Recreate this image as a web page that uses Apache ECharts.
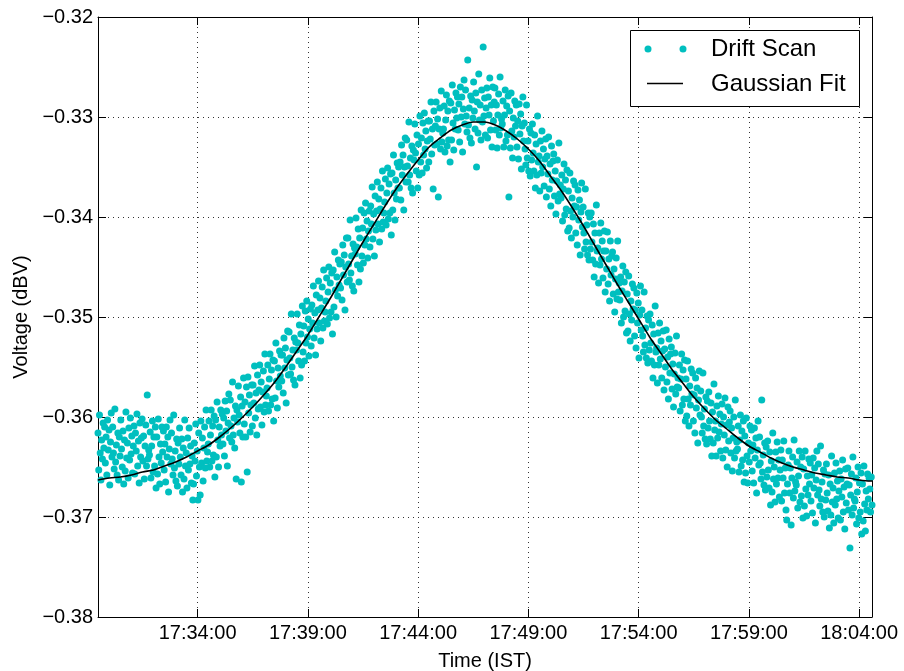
<!DOCTYPE html>
<html><head><meta charset="utf-8">
<script src="https://cdn.jsdelivr.net/npm/echarts@6/dist/echarts.min.js"></script>
<style>html,body{margin:0;padding:0;background:#fff}#c{width:904px;height:671px}</style>
</head><body><div id="c"></div>
<script>
// x is seconds after 17:29:00 (IST)
const clockOrigin = 17 * 3600 + 29 * 60;
const scanStart = 29;   // first sample 17:29:29
const scanStep = 2;     // seconds between samples
const xMin = 29, xMax = 2135;
const xTickValues = [300, 600, 900, 1200, 1500, 1800, 2100];
const yMin = -0.38, yMax = -0.32, yStep = 0.01;

// Drift scan voltage (dBV), one value per sample
const scanValues = [
-.3616,-.3653,-.3598,-.3636,-.3663,-.3623,-.3642,-.3606,-.3631,-.3610,
-.3646,-.3620,-.3658,-.3603,-.3633,-.3613,-.3668,-.3625,-.3596,-.3640,
-.3610,-.3636,-.3652,-.3592,-.3645,-.3628,-.3658,-.3616,-.3663,-.3620,
-.3639,-.3603,-.3632,-.3650,-.3614,-.3667,-.3623,-.3654,-.3595,-.3641,
-.3626,-.3661,-.3611,-.3643,-.3601,-.3637,-.3619,-.3656,-.3629,-.3609,
-.3657,-.3616,-.3634,-.3597,-.3649,-.3624,-.3666,-.3606,-.3640,-.3621,
-.3602,-.3644,-.3619,-.3662,-.3629,-.3608,-.3649,-.3578,-.3642,-.3633,
-.3638,-.3615,-.3661,-.3629,-.3604,-.3655,-.3620,-.3649,-.3610,-.3671,
-.3620,-.3657,-.3602,-.3640,-.3667,-.3627,-.3646,-.3610,-.3635,-.3614,
-.3653,-.3627,-.3665,-.3610,-.3640,-.3620,-.3675,-.3632,-.3603,-.3647,
-.3616,-.3642,-.3658,-.3598,-.3651,-.3634,-.3664,-.3622,-.3669,-.3626,
-.3647,-.3611,-.3640,-.3658,-.3622,-.3675,-.3631,-.3662,-.3603,-.3649,
-.3636,-.3671,-.3621,-.3653,-.3611,-.3647,-.3629,-.3666,-.3639,-.3683,
-.3667,-.3626,-.3644,-.3607,-.3659,-.3634,-.3683,-.3616,-.3650,-.3678,
-.3604,-.3646,-.3621,-.3664,-.3631,-.3610,-.3651,-.3593,-.3644,-.3635,
-.3627,-.3604,-.3650,-.3618,-.3593,-.3644,-.3609,-.3638,-.3599,-.3660,
-.3603,-.3640,-.3585,-.3623,-.3650,-.3610,-.3629,-.3593,-.3618,-.3597,
-.3627,-.3601,-.3639,-.3584,-.3614,-.3594,-.3649,-.3606,-.3577,-.3621,
-.3583,-.3609,-.3625,-.3565,-.3618,-.3601,-.3631,-.3589,-.3662,-.3593,
-.3605,-.3569,-.3598,-.3616,-.3580,-.3665,-.3589,-.3620,-.3561,-.3607,
-.3585,-.3620,-.3570,-.3655,-.3560,-.3596,-.3578,-.3615,-.3588,-.3568,
-.3609,-.3568,-.3586,-.3549,-.3601,-.3576,-.3618,-.3558,-.3592,-.3573,
-.3548,-.3590,-.3565,-.3608,-.3575,-.3554,-.3595,-.3537,-.3588,-.3579,
-.3571,-.3548,-.3594,-.3562,-.3537,-.3588,-.3553,-.3582,-.3543,-.3604,
-.3544,-.3581,-.3526,-.3564,-.3591,-.3551,-.3570,-.3534,-.3559,-.3538,
-.3564,-.3538,-.3576,-.3521,-.3551,-.3531,-.3586,-.3543,-.3514,-.3558,
-.3515,-.3541,-.3557,-.3497,-.3550,-.3533,-.3563,-.3521,-.3568,-.3525,
-.3533,-.3497,-.3526,-.3544,-.3508,-.3561,-.3517,-.3548,-.3489,-.3535,
-.3509,-.3544,-.3494,-.3526,-.3484,-.3520,-.3502,-.3539,-.3512,-.3492,
-.3529,-.3488,-.3506,-.3469,-.3521,-.3496,-.3538,-.3478,-.3512,-.3493,
-.3464,-.3506,-.3481,-.3524,-.3491,-.3470,-.3511,-.3453,-.3504,-.3495,
-.3484,-.3461,-.3507,-.3475,-.3450,-.3501,-.3466,-.3495,-.3456,-.3517,
-.3453,-.3490,-.3435,-.3473,-.3500,-.3460,-.3479,-.3443,-.3468,-.3447,
-.3471,-.3445,-.3483,-.3428,-.3458,-.3438,-.3493,-.3450,-.3421,-.3465,
-.3421,-.3447,-.3463,-.3403,-.3456,-.3439,-.3469,-.3427,-.3474,-.3431,
-.3437,-.3401,-.3430,-.3448,-.3412,-.3465,-.3421,-.3452,-.3393,-.3439,
-.3411,-.3446,-.3396,-.3428,-.3386,-.3422,-.3404,-.3441,-.3414,-.3394,
-.3430,-.3389,-.3407,-.3370,-.3422,-.3397,-.3439,-.3379,-.3413,-.3394,
-.3365,-.3407,-.3382,-.3425,-.3392,-.3371,-.3412,-.3354,-.3405,-.3396,
-.3385,-.3362,-.3408,-.3376,-.3351,-.3402,-.3367,-.3396,-.3357,-.3418,
-.3356,-.3393,-.3338,-.3376,-.3403,-.3363,-.3382,-.3346,-.3371,-.3350,
-.3371,-.3345,-.3383,-.3328,-.3358,-.3338,-.3393,-.3350,-.3321,-.3365,
-.3323,-.3349,-.3365,-.3305,-.3358,-.3341,-.3371,-.3329,-.3376,-.3333,
-.3343,-.3307,-.3336,-.3354,-.3318,-.3371,-.3327,-.3358,-.3299,-.3345,
-.3321,-.3356,-.3306,-.3338,-.3296,-.3332,-.3314,-.3351,-.3324,-.3304,
-.3345,-.3304,-.3322,-.3285,-.3337,-.3312,-.3372,-.3294,-.3328,-.3309,
-.3285,-.3327,-.3302,-.3380,-.3312,-.3291,-.3332,-.3274,-.3325,-.3316,
-.3312,-.3289,-.3335,-.3303,-.3278,-.3329,-.3294,-.3323,-.3284,-.3345,
-.3286,-.3323,-.3268,-.3306,-.3333,-.3293,-.3312,-.3276,-.3301,-.3280,
-.3313,-.3287,-.3325,-.3270,-.3300,-.3280,-.3335,-.3292,-.3263,-.3307,
-.3273,-.3299,-.3315,-.3243,-.3308,-.3291,-.3321,-.3279,-.3326,-.3283,
-.3301,-.3265,-.3294,-.3312,-.3276,-.3350,-.3285,-.3316,-.3257,-.3303,
-.3288,-.3323,-.3273,-.3305,-.3230,-.3299,-.3281,-.3318,-.3291,-.3271,
-.3321,-.3280,-.3298,-.3261,-.3313,-.3288,-.3330,-.3270,-.3304,-.3285,
-.3271,-.3313,-.3288,-.3331,-.3298,-.3277,-.3318,-.3260,-.3311,-.3302,
-.3307,-.3284,-.3330,-.3298,-.3273,-.3324,-.3289,-.3318,-.3279,-.3380,
-.3294,-.3331,-.3276,-.3314,-.3341,-.3301,-.3320,-.3284,-.3309,-.3288,
-.3330,-.3304,-.3342,-.3287,-.3317,-.3297,-.3352,-.3309,-.3280,-.3324,
-.3306,-.3332,-.3348,-.3288,-.3341,-.3324,-.3354,-.3312,-.3359,-.3316,
-.3343,-.3307,-.3336,-.3354,-.3318,-.3371,-.3327,-.3358,-.3299,-.3345,
-.3339,-.3374,-.3324,-.3356,-.3314,-.3350,-.3332,-.3369,-.3342,-.3322,
-.3380,-.3339,-.3357,-.3320,-.3372,-.3347,-.3389,-.3329,-.3363,-.3344,
-.3337,-.3379,-.3354,-.3397,-.3364,-.3343,-.3384,-.3326,-.3377,-.3368,
-.3381,-.3358,-.3404,-.3372,-.3347,-.3398,-.3363,-.3392,-.3353,-.3414,
-.3374,-.3411,-.3356,-.3394,-.3421,-.3381,-.3400,-.3364,-.3389,-.3368,
-.3416,-.3390,-.3428,-.3373,-.3403,-.3383,-.3438,-.3395,-.3366,-.3410,
-.3390,-.3416,-.3432,-.3372,-.3425,-.3408,-.3438,-.3396,-.3443,-.3400,
-.3432,-.3396,-.3425,-.3443,-.3407,-.3460,-.3416,-.3447,-.3388,-.3434,
-.3431,-.3466,-.3416,-.3448,-.3406,-.3442,-.3424,-.3461,-.3434,-.3414,
-.3475,-.3434,-.3452,-.3415,-.3467,-.3442,-.3484,-.3424,-.3458,-.3439,
-.3435,-.3477,-.3452,-.3495,-.3462,-.3441,-.3482,-.3424,-.3475,-.3466,
-.3483,-.3460,-.3506,-.3474,-.3449,-.3500,-.3465,-.3494,-.3455,-.3516,
-.3477,-.3514,-.3459,-.3497,-.3524,-.3484,-.3503,-.3467,-.3492,-.3471,
-.3519,-.3493,-.3531,-.3476,-.3506,-.3486,-.3541,-.3498,-.3469,-.3513,
-.3493,-.3519,-.3535,-.3475,-.3528,-.3511,-.3541,-.3499,-.3546,-.3503,
-.3533,-.3497,-.3526,-.3544,-.3508,-.3561,-.3517,-.3548,-.3489,-.3535,
-.3531,-.3566,-.3516,-.3548,-.3506,-.3542,-.3524,-.3561,-.3534,-.3514,
-.3573,-.3532,-.3550,-.3513,-.3565,-.3540,-.3582,-.3522,-.3556,-.3537,
-.3530,-.3572,-.3547,-.3590,-.3557,-.3536,-.3577,-.3519,-.3570,-.3561,
-.3571,-.3548,-.3594,-.3562,-.3537,-.3588,-.3553,-.3582,-.3543,-.3604,
-.3562,-.3599,-.3544,-.3582,-.3609,-.3569,-.3588,-.3552,-.3577,-.3556,
-.3604,-.3578,-.3616,-.3561,-.3591,-.3571,-.3626,-.3583,-.3554,-.3598,
-.3574,-.3600,-.3616,-.3556,-.3609,-.3592,-.3622,-.3580,-.3627,-.3584,
-.3611,-.3575,-.3604,-.3622,-.3586,-.3639,-.3595,-.3626,-.3567,-.3613,
-.3604,-.3639,-.3589,-.3621,-.3579,-.3615,-.3597,-.3634,-.3607,-.3587,
-.3641,-.3600,-.3618,-.3581,-.3633,-.3608,-.3650,-.3590,-.3624,-.3605,
-.3594,-.3636,-.3611,-.3654,-.3621,-.3600,-.3641,-.3583,-.3634,-.3625,
-.3632,-.3609,-.3655,-.3623,-.3598,-.3649,-.3614,-.3643,-.3604,-.3665,
-.3619,-.3656,-.3601,-.3639,-.3666,-.3626,-.3645,-.3609,-.3634,-.3613,
-.3654,-.3628,-.3666,-.3611,-.3641,-.3621,-.3676,-.3633,-.3604,-.3648,
-.3620,-.3646,-.3662,-.3583,-.3655,-.3638,-.3668,-.3626,-.3673,-.3630,
-.3660,-.3624,-.3653,-.3671,-.3635,-.3688,-.3644,-.3675,-.3616,-.3662,
-.3650,-.3685,-.3635,-.3667,-.3625,-.3661,-.3643,-.3680,-.3653,-.3633,
-.3684,-.3643,-.3661,-.3624,-.3676,-.3651,-.3693,-.3703,-.3667,-.3648,
-.3634,-.3676,-.3651,-.3708,-.3661,-.3640,-.3681,-.3623,-.3674,-.3665,
-.3668,-.3645,-.3691,-.3659,-.3634,-.3685,-.3650,-.3679,-.3640,-.3701,
-.3652,-.3689,-.3634,-.3672,-.3699,-.3659,-.3678,-.3642,-.3667,-.3646,
-.3684,-.3658,-.3696,-.3641,-.3671,-.3651,-.3706,-.3663,-.3634,-.3678,
-.3647,-.3673,-.3689,-.3629,-.3682,-.3665,-.3695,-.3653,-.3700,-.3657,
-.3683,-.3647,-.3676,-.3694,-.3658,-.3711,-.3667,-.3698,-.3639,-.3685,
-.3671,-.3706,-.3656,-.3688,-.3646,-.3682,-.3664,-.3701,-.3674,-.3654,
-.3703,-.3662,-.3680,-.3643,-.3695,-.3670,-.3712,-.3652,-.3686,-.3667,
-.3651,-.3693,-.3668,-.3731,-.3678,-.3657,-.3698,-.3640,-.3691,-.3682,
-.3684,-.3661,-.3707,-.3675,-.3650,-.3701,-.3666,-.3695,-.3656,-.3717,
-.3667,-.3704,-.3649,-.3687,-.3714,-.3674,-.3693,-.3657,-.3682,-.3661,
-.3672,-.3695,-.3660,-.3688
];

// Gaussian fit curve
const fitTimes = [29,
30,60,90,120,150,180,210,240,270,300,
330,360,390,420,450,480,510,540,570,600,
630,660,690,720,750,780,810,840,870,900,
930,960,990,1020,1050,1080,1110,1140,1170,1200,
1230,1260,1290,1320,1350,1380,1410,1440,1470,1500,
1530,1560,1590,1620,1650,1680,1710,1740,1770,1800,
1830,1860,1890,1920,1950,1980,2010,2040,2070,2100,
2130,2135];
const fitValues = [-.3663,
-.3663,-.3661,-.3660,-.3658,-.3655,-.3653,-.3649,-.3645,-.3640,-.3634,
-.3628,-.3620,-.3611,-.3601,-.3590,-.3578,-.3565,-.3550,-.3534,-.3518,
-.3500,-.3482,-.3463,-.3444,-.3425,-.3407,-.3389,-.3372,-.3357,-.3343,
-.3330,-.3321,-.3313,-.3308,-.3305,-.3305,-.3308,-.3314,-.3322,-.3332,
-.3344,-.3359,-.3374,-.3391,-.3409,-.3428,-.3447,-.3466,-.3484,-.3502,
-.3520,-.3536,-.3552,-.3566,-.3580,-.3592,-.3603,-.3612,-.3621,-.3629,
-.3635,-.3641,-.3646,-.3650,-.3653,-.3656,-.3658,-.3660,-.3661,-.3663,
-.3664,-.3664];

const seriesNames = ['Drift Scan', 'Gaussian Fit'];
const xTitle = 'Time (IST)';
const yTitle = 'Voltage (dBV)';

const scanData = scanValues.map((v, i) => [scanStart + i * scanStep, v]);
const fitData = fitTimes.map((t, i) => [t, fitValues[i]]);

function pad(n) { return (n < 10 ? '0' : '') + n; }
function clock(s) {
  const tot = Math.round(clockOrigin + s);
  const h = Math.floor(tot / 3600), m = Math.floor((tot % 3600) / 60), sec = tot % 60;
  return pad(h) + ':' + pad(m) + ':' + pad(sec);
}

const FONT = '"Liberation Sans", Arial, sans-serif';
const CYAN = '#00BFBF';
const gridLine = { show: true, lineStyle: { color: '#333', width: 1, type: [1, 4] } };

const chart = echarts.init(document.getElementById('c'), null, { renderer: 'canvas' });
chart.setOption({
  animation: false,
  backgroundColor: '#fff',
  grid: { left: 98, right: 32, top: 17, bottom: 54, containLabel: false, outerBoundsMode: 'none' },
  xAxis: [{
    type: 'value', min: xMin, max: xMax, position: 'bottom',
    name: xTitle, nameLocation: 'middle', nameGap: 34,
    nameTextStyle: { fontFamily: FONT, fontSize: 20, color: '#000' },
    axisLine: { show: true, onZero: false, lineStyle: { color: '#000', width: 1 } },
    axisTick: { show: true, inside: true, length: 8, customValues: xTickValues, lineStyle: { color: '#000' } },
    axisLabel: { show: true, customValues: xTickValues, margin: 6, fontFamily: FONT, fontSize: 20, color: '#000',
      formatter: v => clock(v) },
    splitLine: gridLine
  }, {
    type: 'value', min: xMin, max: xMax, position: 'top',
    axisLine: { show: true, onZero: false, lineStyle: { color: '#000', width: 1 } },
    axisTick: { show: true, inside: true, length: 8, customValues: xTickValues, lineStyle: { color: '#000' } },
    axisLabel: { show: false }, splitLine: { show: false }
  }],
  yAxis: [{
    type: 'value', min: yMin, max: yMax, interval: yStep, position: 'left',
    name: yTitle, nameLocation: 'middle', nameGap: 67,
    nameTextStyle: { fontFamily: FONT, fontSize: 20, color: '#000' },
    axisLine: { show: true, onZero: false, lineStyle: { color: '#000', width: 1 } },
    axisTick: { show: true, inside: true, length: 8, lineStyle: { color: '#000' } },
    axisLabel: { margin: 5, fontFamily: FONT, fontSize: 20, color: '#000',
      formatter: v => v.toFixed(2).replace('-', '\u2212') },
    splitLine: gridLine
  }, {
    type: 'value', min: yMin, max: yMax, interval: yStep, position: 'right',
    axisLine: { show: true, onZero: false, lineStyle: { color: '#000', width: 1 } },
    axisTick: { show: true, inside: true, length: 8, lineStyle: { color: '#000' } },
    axisLabel: { show: false }, splitLine: { show: false }
  }],
  series: [{
    name: seriesNames[0], type: 'scatter', data: scanData,
    symbol: 'circle', symbolSize: 7, itemStyle: { color: CYAN, opacity: 1 },
    z: 2, silent: true
  }, {
    name: seriesNames[1], type: 'line', data: fitData, smooth: 0.3,
    showSymbol: false, lineStyle: { color: '#000', width: 1.6 }, z: 3, silent: true
  }],
  graphic: [
    { type: 'rect', z: 100, shape: { x: 630.5, y: 30.5, width: 229, height: 76 },
      style: { fill: '#fff', stroke: '#000', lineWidth: 1 } },
    { type: 'circle', z: 101, shape: { cx: 648, cy: 49, r: 3.5 }, style: { fill: CYAN } },
    { type: 'circle', z: 101, shape: { cx: 683, cy: 49, r: 3.5 }, style: { fill: CYAN } },
    { type: 'line', z: 101, shape: { x1: 647, y1: 83.5, x2: 683, y2: 83.5 }, style: { stroke: '#000', lineWidth: 1.6 } },
    { type: 'text', z: 101, x: 711, y: 49, style: { text: seriesNames[0], font: '24px ' + FONT, fill: '#000', align: 'left', verticalAlign: 'middle' } },
    { type: 'text', z: 101, x: 711, y: 84, style: { text: seriesNames[1], font: '24px ' + FONT, fill: '#000', align: 'left', verticalAlign: 'middle' } }
  ]
});
</script>
</body></html>
